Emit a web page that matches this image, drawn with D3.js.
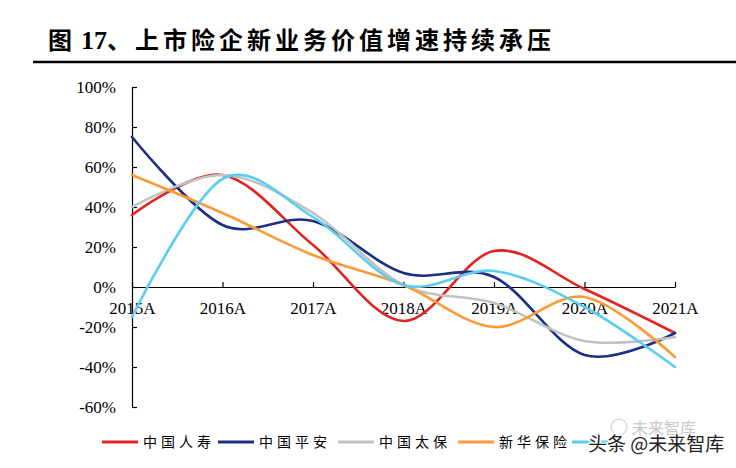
<!DOCTYPE html>
<html>
<head>
<meta charset="utf-8">
<script src="https://cdn.jsdelivr.net/npm/d3@7"></script>
<style>
  body { margin: 0; background: #fff; }
  svg { display: block; }
</style>
</head>
<body>
<div id="chart"></div>
<script>
// data (%)
var years = ["2015A", "2016A", "2017A", "2018A", "2019A", "2020A", "2021A"];
var names = ["中国人寿", "中国平安", "中国太保", "新华保险", "中国人保"];
var chinaLife = [36, 56, 21, -17, 18, -1, -23];
var pingAn    = [75, 31, 33, 7, 5, -34, -23];
var cpic      = [40, 56, 37, 1, -8, -27, -25];
var newChina  = [56, 37, 16, 1, -20, -5, -35];
var picc      = [-15, 54, 35, 1, 8, -10, -40];
var yTicks = [-60, -40, -20, 0, 20, 40, 60, 80, 100];

var colors = ["#e2231f", "#1b2f84", "#c2c2c2", "#fb9a36", "#5ccdf1"];
var series = [chinaLife, pingAn, cpic, newChina, picc];

var svgWidth = 736;
var svgHeight = 468;

var svg = d3.select("#chart")
    .append("svg")
    .attr("width", svgWidth)
    .attr("height", svgHeight);

// title + rule
var title = svg.append("text")
    .attr("x", 48)
    .attr("y", 49)
    .attr("font-family", "'Noto Sans CJK SC'")
    .attr("font-weight", "bold")
    .attr("font-size", 24)
    .attr("fill", "#000");
title.append("tspan").text("图");
title.append("tspan")
    .attr("dx", 9)
    .attr("font-family", "'Liberation Serif'")
    .attr("font-size", 26)
    .text("17");
title.append("tspan")
    .attr("letter-spacing", 4)
    .text("、上市险企新业务价值增速持续承压");

svg.append("line")
    .attr("x1", 33).attr("x2", 736)
    .attr("y1", 62).attr("y2", 62)
    .attr("stroke", "#000")
    .attr("stroke-width", 2.5);

// scales
var xScale = d3.scalePoint()
    .domain(years)
    .range([132, 675]);

var yScale = d3.scaleLinear()
    .domain([-60, 100])
    .range([407, 87]);

// axes
var leftAxis = d3.axisLeft(yScale)
    .tickValues(yTicks)
    .tickFormat(d => d + "%")
    .tickSizeInner(-5)
    .tickSizeOuter(0)
    .tickPadding(16);

var bottomAxis = d3.axisBottom(xScale)
    .tickSizeInner(-5)
    .tickSizeOuter(0)
    .tickPadding(15);

var gx = svg.append("g")
    .attr("transform", `translate(0, ${yScale(0)})`)
    .call(bottomAxis);

var gy = svg.append("g")
    .attr("transform", `translate(${xScale(years[0])}, 0)`)
    .call(leftAxis);

[gx, gy].forEach(function (g) {
    g.selectAll("path, line").attr("stroke", "#000").attr("stroke-width", 1.2);
    g.selectAll("text")
        .attr("font-family", "'Liberation Serif'")
        .attr("font-size", 17)
        .attr("fill", "#000");
});

// lines
var line = d3.line()
    .x((d, i) => xScale(years[i]))
    .y(d => yScale(d))
    .curve(d3.curveCardinal.tension(0));

svg.append("g")
    .selectAll("path")
    .data(series)
    .enter()
    .append("path")
    .attr("d", d => line(d))
    .attr("fill", "none")
    .attr("stroke", (d, i) => colors[i])
    .attr("stroke-width", 2.6)
    .attr("stroke-linecap", "round");

// legend
var legendX = [102, 218, 338, 458, 572];
var legend = svg.append("g");
names.forEach(function (name, i) {
    legend.append("line")
        .attr("x1", legendX[i]).attr("x2", legendX[i] + 36)
        .attr("y1", 442).attr("y2", 442)
        .attr("stroke", colors[i])
        .attr("stroke-width", 3);
    // the last label is hidden under the watermark
    if (i < 4) {
        legend.append("text")
            .attr("x", legendX[i] + 41)
            .attr("y", 447)
            .attr("font-family", "'Noto Sans CJK SC'")
            .attr("font-size", 14)
            .attr("letter-spacing", 4)
            .attr("fill", "#000")
            .text(name);
    }
});

// watermark
svg.append("circle")
    .attr("cx", 619).attr("cy", 427).attr("r", 8)
    .attr("fill", "none")
    .attr("stroke", "#d0d0d0")
    .attr("stroke-width", 1.2);
svg.append("text")
    .attr("x", 632).attr("y", 434)
    .attr("font-family", "'Noto Sans CJK SC'")
    .attr("font-size", 16)
    .attr("fill", "#c8c8c8")
    .text("未来智库");
svg.append("text")
    .attr("x", 588).attr("y", 451)
    .attr("font-family", "'Noto Sans CJK SC'")
    .attr("font-size", 19)
    .attr("fill", "#222")
    .attr("stroke", "#fff")
    .attr("stroke-width", 2.5)
    .attr("paint-order", "stroke")
    .text("头条 @未来智库");
</script>
</body>
</html>
